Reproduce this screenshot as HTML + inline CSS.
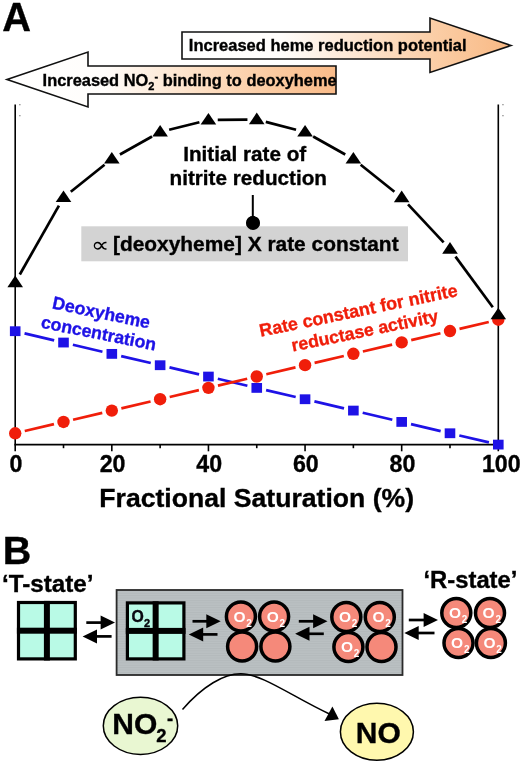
<!DOCTYPE html>
<html><head><meta charset="utf-8"><title>Figure</title>
<style>
html,body{margin:0;padding:0;background:#fff;}
body{width:520px;height:762px;overflow:hidden;}
svg{display:block;}
text{font-family:"Liberation Sans",Arial,Helvetica,sans-serif;font-weight:bold;stroke:#000;stroke-width:0.35px;}
.b{fill:#1e12e6;stroke:#1e12e6}.r{fill:#f01e0a;stroke:#f01e0a}.w{fill:#fff;stroke:none}
</style></head><body>
<svg width="520" height="762" viewBox="0 0 520 762">
<defs>
<linearGradient id="gr" x1="182" x2="513" y1="0" y2="0" gradientUnits="userSpaceOnUse">
<stop offset="0" stop-color="#ffffff"/><stop offset="0.3" stop-color="#fffdfb"/><stop offset="0.75" stop-color="#fbcfa8"/><stop offset="1" stop-color="#f8b883"/>
</linearGradient>
<linearGradient id="gl" x1="5" x2="336" y1="0" y2="0" gradientUnits="userSpaceOnUse">
<stop offset="0" stop-color="#ffffff"/><stop offset="0.3" stop-color="#fffdfb"/><stop offset="0.55" stop-color="#fde3cb"/><stop offset="0.8" stop-color="#fbcba2"/><stop offset="1" stop-color="#f9bb89"/>
</linearGradient>
<pattern id="hl" width="4" height="2.4" patternUnits="userSpaceOnUse"><rect width="4" height="2.4" fill="#bac0c2"/><rect y="0" width="4" height="0.9" fill="#b3b9bb"/></pattern>
</defs>
<rect width="520" height="762" fill="#ffffff"/>

<text x="2.2" y="31.2" font-size="39.8">A</text>
<text x="2.8" y="564" font-size="39.6">B</text>
<polygon points="182,32 430,32 430,18 511,45.5 430,72.5 430,59 182,59" fill="url(#gr)" stroke="#111" stroke-width="1.6" stroke-linejoin="miter"/>
<text x="188.8" y="51.3" font-size="16.5">Increased heme reduction potential</text>
<polygon points="336,66 88,66 88,52 7,79.5 88,107 88,94 336,94" fill="url(#gl)" stroke="#111" stroke-width="1.6" stroke-linejoin="miter"/>
<text x="42.6" y="85.5" font-size="16.4">Increased NO<tspan font-size="11" dy="4">2</tspan><tspan font-size="11" dy="-10">-</tspan><tspan dy="6"> binding to deoxyheme</tspan></text>
<g stroke="#000" stroke-width="1.6" fill="none">
<line x1="15.2" y1="104.5" x2="15.2" y2="451.3"/>
<line x1="498.3" y1="104.5" x2="498.3" y2="451.3"/>
<line x1="14.4" y1="444.6" x2="499.1" y2="444.6"/>
<line x1="63.51" y1="444.6" x2="63.51" y2="448.2"/>
<line x1="111.82" y1="444.6" x2="111.82" y2="451.3"/>
<line x1="160.13" y1="444.6" x2="160.13" y2="448.2"/>
<line x1="208.44" y1="444.6" x2="208.44" y2="451.3"/>
<line x1="256.75" y1="444.6" x2="256.75" y2="448.2"/>
<line x1="305.06" y1="444.6" x2="305.06" y2="451.3"/>
<line x1="353.37" y1="444.6" x2="353.37" y2="448.2"/>
<line x1="401.68" y1="444.6" x2="401.68" y2="451.3"/>
<line x1="449.99" y1="444.6" x2="449.99" y2="448.2"/>
</g>
<text x="16.00" y="471.6" font-size="23.2" text-anchor="middle">0</text>
<text x="112.62" y="471.6" font-size="23.2" text-anchor="middle">20</text>
<text x="209.24" y="471.6" font-size="23.2" text-anchor="middle">40</text>
<text x="305.86" y="471.6" font-size="23.2" text-anchor="middle">60</text>
<text x="402.48" y="471.6" font-size="23.2" text-anchor="middle">80</text>
<text x="501.30" y="471.6" font-size="23.2" text-anchor="middle">100</text>
<text x="99.3" y="506.8" font-size="26.6">Fractional Saturation (%)</text>
<g stroke="#000" stroke-width="2.7" fill="none"><line x1="19.79" y1="274.51" x2="58.92" y2="205.59"/><line x1="70.78" y1="191.70" x2="104.55" y2="164.80"/><line x1="119.94" y1="154.46" x2="152.01" y2="136.54"/><line x1="169.16" y1="129.76" x2="199.41" y2="122.24"/><line x1="217.74" y1="119.92" x2="247.45" y2="119.68"/><line x1="265.76" y1="121.91" x2="296.05" y2="129.69"/><line x1="313.18" y1="136.54" x2="345.25" y2="154.46"/><line x1="360.64" y1="164.81" x2="394.41" y2="191.79"/><line x1="408.04" y1="204.38" x2="443.63" y2="242.32"/><line x1="455.50" y1="256.59" x2="492.79" y2="307.21"/></g>
<g stroke="#1e12e6" stroke-width="2.7" fill="none"><line x1="24.55" y1="333.39" x2="54.16" y2="340.35"/><line x1="72.86" y1="344.73" x2="102.47" y2="351.69"/><line x1="121.17" y1="356.07" x2="150.78" y2="363.03"/><line x1="169.48" y1="367.41" x2="199.09" y2="374.37"/><line x1="217.79" y1="378.75" x2="247.40" y2="385.71"/><line x1="266.10" y1="390.09" x2="295.71" y2="397.05"/><line x1="314.41" y1="401.43" x2="344.02" y2="408.39"/><line x1="362.72" y1="412.77" x2="392.33" y2="419.73"/><line x1="411.03" y1="424.11" x2="440.64" y2="431.07"/><line x1="459.34" y1="435.45" x2="488.95" y2="442.41"/></g>
<g stroke="#f01e0a" stroke-width="2.7" fill="none"><line x1="24.74" y1="431.06" x2="53.97" y2="424.18"/><line x1="73.05" y1="419.70" x2="102.28" y2="412.82"/><line x1="121.36" y1="408.34" x2="150.59" y2="401.46"/><line x1="169.67" y1="396.98" x2="198.90" y2="390.10"/><line x1="217.98" y1="385.62" x2="247.21" y2="378.74"/><line x1="266.29" y1="374.26" x2="295.52" y2="367.38"/><line x1="314.60" y1="362.90" x2="343.83" y2="356.02"/><line x1="362.91" y1="351.54" x2="392.14" y2="344.66"/><line x1="411.22" y1="340.18" x2="440.45" y2="333.30"/><line x1="459.53" y1="328.82" x2="488.76" y2="321.94"/></g>
<rect x="9.90" y="326.30" width="10.6" height="9.8" fill="#1e12e6"/>
<rect x="58.21" y="337.64" width="10.6" height="9.8" fill="#1e12e6"/>
<rect x="106.52" y="348.98" width="10.6" height="9.8" fill="#1e12e6"/>
<rect x="154.83" y="360.32" width="10.6" height="9.8" fill="#1e12e6"/>
<rect x="203.14" y="371.66" width="10.6" height="9.8" fill="#1e12e6"/>
<rect x="251.45" y="383.00" width="10.6" height="9.8" fill="#1e12e6"/>
<rect x="299.76" y="394.34" width="10.6" height="9.8" fill="#1e12e6"/>
<rect x="348.07" y="405.68" width="10.6" height="9.8" fill="#1e12e6"/>
<rect x="396.38" y="417.02" width="10.6" height="9.8" fill="#1e12e6"/>
<rect x="444.69" y="428.36" width="10.6" height="9.8" fill="#1e12e6"/>
<rect x="493.00" y="439.70" width="10.6" height="9.8" fill="#1e12e6"/>
<circle cx="15.20" cy="433.30" r="6.2" fill="#f01e0a"/>
<circle cx="63.51" cy="421.94" r="6.2" fill="#f01e0a"/>
<circle cx="111.82" cy="410.58" r="6.2" fill="#f01e0a"/>
<circle cx="160.13" cy="399.22" r="6.2" fill="#f01e0a"/>
<circle cx="208.44" cy="387.86" r="6.2" fill="#f01e0a"/>
<circle cx="256.75" cy="376.50" r="6.2" fill="#f01e0a"/>
<circle cx="305.06" cy="365.14" r="6.2" fill="#f01e0a"/>
<circle cx="353.37" cy="353.78" r="6.2" fill="#f01e0a"/>
<circle cx="401.68" cy="342.42" r="6.2" fill="#f01e0a"/>
<circle cx="449.99" cy="331.06" r="6.2" fill="#f01e0a"/>
<circle cx="498.30" cy="319.70" r="6.2" fill="#f01e0a"/>
<polygon points="15.20,275.60 7.40,287.20 23.00,287.20" fill="#000"/>
<polygon points="63.51,190.50 55.71,202.10 71.31,202.10" fill="#000"/>
<polygon points="111.82,152.00 104.02,163.60 119.62,163.60" fill="#000"/>
<polygon points="160.13,125.00 152.33,136.60 167.93,136.60" fill="#000"/>
<polygon points="208.44,113.00 200.64,124.60 216.24,124.60" fill="#000"/>
<polygon points="256.75,112.60 248.95,124.20 264.55,124.20" fill="#000"/>
<polygon points="305.06,125.00 297.26,136.60 312.86,136.60" fill="#000"/>
<polygon points="353.37,152.00 345.57,163.60 361.17,163.60" fill="#000"/>
<polygon points="401.68,190.60 393.88,202.20 409.48,202.20" fill="#000"/>
<polygon points="449.99,242.10 442.19,253.70 457.79,253.70" fill="#000"/>
<polygon points="498.30,307.70 490.50,319.30 506.10,319.30" fill="#000"/>
<g fill="#8a8a8a"><rect x="19.2" y="104" width="1.3" height="1.3"/><rect x="19.2" y="115" width="1.3" height="1.3"/><rect x="502.3" y="104" width="1.3" height="1.3"/><rect x="502.3" y="115" width="1.3" height="1.3"/></g>
<text x="183.2" y="160.5" font-size="20.7">Initial rate of</text>
<text x="169.5" y="185.3" font-size="20.7">nitrite reduction</text>
<line x1="252.8" y1="195" x2="252.8" y2="222" stroke="#000" stroke-width="2"/>
<circle cx="253" cy="223" r="6.9" fill="#000"/>
<rect x="81.3" y="226.3" width="326.7" height="35" fill="#d3d3d3"/>
<circle cx="253" cy="223" r="6.9" fill="#000"/>
<text transform="translate(91,252.2) scale(1.25,1.03)" font-size="20" style="font-weight:normal;stroke:none">∝</text>
<text x="113" y="251" font-size="20.9">[deoxyheme] X rate constant</text>
<text transform="translate(51.5,308.3) rotate(11.8)" font-size="17.7" class="b">Deoxyheme</text>
<text transform="translate(40.2,327.6) rotate(11.3)" font-size="17.7" class="b">concentration</text>
<text transform="translate(260.8,336.8) rotate(-11.7)" font-size="17.9" class="r">Rate constant for nitrite</text>
<text transform="translate(292.8,351.6) rotate(-11.6)" font-size="17.7" class="r">reductase activity</text>
<text x="2" y="591.8" font-size="24.2">‘T-state’</text>
<text x="423.5" y="588.3" font-size="23.8">‘R-state’</text>
<rect x="116.6" y="590" width="285.9" height="85" fill="url(#hl)" stroke="#2a2a2a" stroke-width="1.8"/>
<rect x="18.5" y="602.5" width="56.800000000000004" height="56.40000000000002" fill="#b9fae6" stroke="#000" stroke-width="3.2"/><rect x="43.900000000000006" y="600.9" width="6" height="59.60000000000002" fill="#000"/><rect x="16.9" y="627.7" width="60.00000000000001" height="6" fill="#000"/>
<rect x="127.39999999999999" y="602.9" width="56.5" height="56.00000000000004" fill="#b9fae6" stroke="#000" stroke-width="3.2"/><rect x="152.65" y="601.3" width="6" height="59.200000000000045" fill="#000"/><rect x="125.8" y="627.9" width="59.7" height="6" fill="#000"/>
<text x="131.6" y="621.8" font-size="15.8" fill="#0a0a14">O<tspan font-size="11" dy="5.5">2</tspan></text>
<g stroke="#000" stroke-width="2.7" fill="#000"><line x1="86.3" y1="622.6" x2="105.8" y2="622.6"/><polygon stroke="none" points="115.0,622.6 100.6,615.6 100.6,629.6"/><line x1="91.8" y1="636.4" x2="111.6" y2="636.4"/><polygon stroke="none" points="82.6,636.4 97.0,629.4 97.0,643.4"/></g>
<g stroke="#000" stroke-width="2.7" fill="#000"><line x1="192.5" y1="621.3" x2="211.5" y2="621.3"/><polygon stroke="none" points="220.7,621.3 206.3,614.3 206.3,628.3"/><line x1="198" y1="634.4" x2="217.5" y2="634.4"/><polygon stroke="none" points="188.8,634.4 203.2,627.4 203.2,641.4"/></g>
<g stroke="#000" stroke-width="2.7" fill="#000"><line x1="298.8" y1="621.3" x2="318.3" y2="621.3"/><polygon stroke="none" points="327.5,621.3 313.1,614.3 313.1,628.3"/><line x1="304.3" y1="633.8" x2="323.8" y2="633.8"/><polygon stroke="none" points="295.1,633.8 309.5,626.8 309.5,640.8"/></g>
<g stroke="#000" stroke-width="2.7" fill="#000"><line x1="408.8" y1="620" x2="428.8" y2="620"/><polygon stroke="none" points="438.0,620 423.6,613 423.6,627"/><line x1="413.5" y1="633" x2="434.5" y2="633"/><polygon stroke="none" points="404.3,633 418.7,626 418.7,640"/></g>
<circle cx="240.9" cy="616.5" r="14.5" fill="#f5897a" stroke="#000" stroke-width="3.5"/><text x="233.5" y="621.5" font-size="15.5" class="w">O<tspan font-size="10" dy="5" dx="0.8">2</tspan></text>
<circle cx="274.1" cy="616.5" r="14.5" fill="#f5897a" stroke="#000" stroke-width="3.5"/><text x="266.70000000000005" y="621.5" font-size="15.5" class="w">O<tspan font-size="10" dy="5" dx="0.8">2</tspan></text>
<circle cx="242.1" cy="646.5" r="14.5" fill="#f5897a" stroke="#000" stroke-width="3.5"/>
<circle cx="275.4" cy="646.5" r="14.5" fill="#f5897a" stroke="#000" stroke-width="3.5"/>
<circle cx="346.3" cy="617" r="14.5" fill="#f5897a" stroke="#000" stroke-width="3.5"/><text x="338.90000000000003" y="622" font-size="15.5" class="w">O<tspan font-size="10" dy="5" dx="0.8">2</tspan></text>
<circle cx="379.8" cy="617" r="14.5" fill="#f5897a" stroke="#000" stroke-width="3.5"/><text x="372.40000000000003" y="622" font-size="15.5" class="w">O<tspan font-size="10" dy="5" dx="0.8">2</tspan></text>
<circle cx="348.4" cy="647" r="14.5" fill="#f5897a" stroke="#000" stroke-width="3.5"/><text x="341.0" y="652" font-size="15.5" class="w">O<tspan font-size="10" dy="5" dx="0.8">2</tspan></text>
<circle cx="381.5" cy="647" r="14.5" fill="#f5897a" stroke="#000" stroke-width="3.5"/>
<circle cx="456.3" cy="613" r="14.5" fill="#f5897a" stroke="#000" stroke-width="3.5"/><text x="448.90000000000003" y="618" font-size="15.5" class="w">O<tspan font-size="10" dy="5" dx="0.8">2</tspan></text>
<circle cx="490" cy="613" r="14.5" fill="#f5897a" stroke="#000" stroke-width="3.5"/><text x="482.6" y="618" font-size="15.5" class="w">O<tspan font-size="10" dy="5" dx="0.8">2</tspan></text>
<circle cx="458.5" cy="643" r="14.5" fill="#f5897a" stroke="#000" stroke-width="3.5"/><text x="451.1" y="648" font-size="15.5" class="w">O<tspan font-size="10" dy="5" dx="0.8">2</tspan></text>
<circle cx="490.9" cy="643" r="14.5" fill="#f5897a" stroke="#000" stroke-width="3.5"/><text x="483.5" y="648" font-size="15.5" class="w">O<tspan font-size="10" dy="5" dx="0.8">2</tspan></text>
<ellipse cx="140.5" cy="725.8" rx="37.2" ry="28.6" fill="#e9f7d2" stroke="#000" stroke-width="1.5"/>
<text x="112.3" y="734.3" font-size="30">NO<tspan font-size="18.5" dy="7.7" dx="-1">2</tspan><tspan font-size="18.5" dy="-17" dx="0.5">-</tspan></text>
<ellipse cx="376.9" cy="731.8" rx="36.5" ry="28.5" fill="#fff8ae" stroke="#000" stroke-width="1.5"/>
<text x="355.8" y="742.5" font-size="30">NO</text>
<path d="M182.5,709.4 C 203,686 224,673.6 241,673.8 C 262,673.8 292,696.5 329.5,714" fill="none" stroke="#000" stroke-width="1.5"/>
<polygon points="332.4,706.6 324.5,721.1 338.9,719.2" fill="#000"/>
</svg></body></html>
